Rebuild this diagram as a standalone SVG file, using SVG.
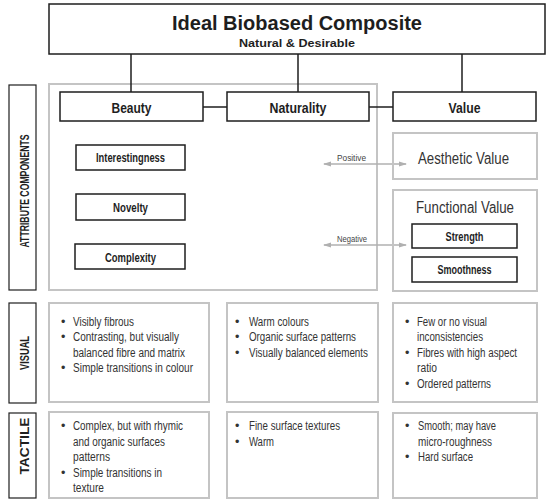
<svg xmlns="http://www.w3.org/2000/svg" width="550" height="504" viewBox="0 0 550 504">
<defs>
<style>
text{font-family:"Liberation Sans",Arial,sans-serif;fill:#1e1e1e}
.bx{fill:#fff;stroke:#1e1e1e;stroke-width:1.5}
.lb{fill:#fff;stroke:#1e1e1e;stroke-width:1.2}
.gb{fill:none;stroke:#c4c4c4;stroke-width:2}
.ln{stroke:#1e1e1e;stroke-width:1.5;fill:none}
.ar{stroke:#b0b0b0;stroke-width:1.3;fill:none}
.hd{font-weight:bold;font-size:14px;text-anchor:middle}
.cp{font-weight:bold;font-size:12.5px;text-anchor:middle}
.vl{font-size:16px;text-anchor:middle;fill:#333}
.sd{font-weight:bold;font-size:13px;text-anchor:middle}
.bl{font-size:12.5px;fill:#333}
.sm{font-size:9px;fill:#444}
</style>
<marker id="ah" viewBox="0 0 8 6" refX="7" refY="3" markerWidth="8" markerHeight="6" markerUnits="userSpaceOnUse" orient="auto-start-reverse">
<path d="M0,0.5 L8,3 L0,5.5 z" fill="#b0b0b0"/>
</marker>
</defs>

<g id="attr-panel"><rect class="gb" x="49" y="84" width="328" height="206"/></g>

<g id="connectors">
<line class="ln" x1="131" y1="54" x2="131" y2="92"/>
<line class="ln" x1="298" y1="54" x2="298" y2="92"/>
<line class="ln" x1="462" y1="54" x2="462" y2="92"/>
<line class="ln" x1="203" y1="107" x2="227" y2="107"/>
<line class="ln" x1="369" y1="107" x2="393" y2="107"/>
<line class="ar" x1="324" y1="164" x2="406" y2="164" marker-start="url(#ah)" marker-end="url(#ah)"/>
<line class="ar" x1="324" y1="245" x2="406" y2="245" marker-start="url(#ah)" marker-end="url(#ah)"/>
<text class="sm" x="337" y="161" textLength="29" lengthAdjust="spacingAndGlyphs">Positive</text>
<text class="sm" x="337" y="242" textLength="30" lengthAdjust="spacingAndGlyphs">Negative</text>
</g>

<g id="ideal">
<rect class="bx" x="49" y="4" width="496" height="50"/>
<text x="297" y="30" font-size="20" font-weight="bold" text-anchor="middle" textLength="250" lengthAdjust="spacingAndGlyphs">Ideal Biobased Composite</text>
<text x="297" y="47" font-size="11" font-weight="bold" text-anchor="middle" textLength="116" lengthAdjust="spacingAndGlyphs">Natural &amp; Desirable</text>
</g>

<g id="beauty"><rect class="bx" x="60" y="92" width="143" height="29"/><text class="hd" x="131.5" y="113" textLength="40" lengthAdjust="spacingAndGlyphs">Beauty</text></g>
<g id="naturality"><rect class="bx" x="227" y="92" width="142" height="29"/><text class="hd" x="298" y="113" textLength="57" lengthAdjust="spacingAndGlyphs">Naturality</text></g>
<g id="value"><rect class="bx" x="393" y="92" width="143" height="29"/><text class="hd" x="464.5" y="113" textLength="32" lengthAdjust="spacingAndGlyphs">Value</text></g>

<g id="interestingness"><rect class="bx" x="76" y="145" width="109" height="25" stroke-width="1.2"/><text class="cp" x="130.5" y="162" textLength="69" lengthAdjust="spacingAndGlyphs">Interestingness</text></g>
<g id="novelty"><rect class="bx" x="76" y="194" width="109" height="26" stroke-width="1.2"/><text class="cp" x="130.5" y="212" textLength="35" lengthAdjust="spacingAndGlyphs">Novelty</text></g>
<g id="complexity"><rect class="bx" x="75" y="244" width="110" height="25" stroke-width="1.2"/><text class="cp" x="130.5" y="262" textLength="51" lengthAdjust="spacingAndGlyphs">Complexity</text></g>

<g id="aesthetic-value"><rect class="gb" x="393" y="133" width="144" height="46"/><text class="vl" x="463.5" y="164" textLength="91" lengthAdjust="spacingAndGlyphs">Aesthetic Value</text></g>
<g id="functional-value"><rect class="gb" x="393" y="190" width="144" height="101"/><text class="vl" x="465" y="213" textLength="98" lengthAdjust="spacingAndGlyphs">Functional Value</text></g>
<g id="strength"><rect class="bx" x="412" y="224" width="105" height="24" stroke-width="1.2"/><text class="cp" x="464.5" y="241" textLength="38" lengthAdjust="spacingAndGlyphs">Strength</text></g>
<g id="smoothness"><rect class="bx" x="412" y="257" width="105" height="25" stroke-width="1.2"/><text class="cp" x="464.5" y="274" textLength="54" lengthAdjust="spacingAndGlyphs">Smoothness</text></g>

<g id="label-attribute"><rect class="lb" x="9" y="85" width="27" height="205"/><text class="sd" transform="translate(29,191) rotate(-90)" x="0" y="0" textLength="113" lengthAdjust="spacingAndGlyphs">ATTRIBUTE COMPONENTS</text></g>
<g id="label-visual"><rect class="lb" x="9" y="303" width="27" height="100"/><text class="sd" transform="translate(29,353) rotate(-90)" x="0" y="0" textLength="34" lengthAdjust="spacingAndGlyphs">VISUAL</text></g>
<g id="label-tactile"><rect class="lb" x="9" y="413" width="27" height="85"/><text class="sd" transform="translate(29,446) rotate(-90)" x="0" y="0" textLength="57" lengthAdjust="spacingAndGlyphs">TACTILE</text></g>

<g id="visual-beauty"><rect class="gb" x="49" y="303" width="160" height="99"/>
<text class="bl" x="61" y="326">•</text><text class="bl" x="73" y="326" textLength="61" lengthAdjust="spacingAndGlyphs">Visibly fibrous</text>
<text class="bl" x="61" y="341">•</text><text class="bl" x="73" y="341" textLength="106" lengthAdjust="spacingAndGlyphs">Contrasting, but visually</text>
<text class="bl" x="73" y="357" textLength="112" lengthAdjust="spacingAndGlyphs">balanced fibre and matrix</text>
<text class="bl" x="61" y="372">•</text><text class="bl" x="73" y="372" textLength="120" lengthAdjust="spacingAndGlyphs">Simple transitions in colour</text>
</g>
<g id="visual-naturality"><rect class="gb" x="227" y="303" width="151" height="99"/>
<text class="bl" x="235" y="326">•</text><text class="bl" x="249" y="326" textLength="60" lengthAdjust="spacingAndGlyphs">Warm colours</text>
<text class="bl" x="235" y="341">•</text><text class="bl" x="249" y="341" textLength="107" lengthAdjust="spacingAndGlyphs">Organic surface patterns</text>
<text class="bl" x="235" y="357">•</text><text class="bl" x="249" y="357" textLength="119" lengthAdjust="spacingAndGlyphs">Visually balanced elements</text>
</g>
<g id="visual-value"><rect class="gb" x="393" y="303" width="144" height="99"/>
<text class="bl" x="405" y="326">•</text><text class="bl" x="417" y="326" textLength="70" lengthAdjust="spacingAndGlyphs">Few or no visual</text>
<text class="bl" x="417" y="341" textLength="66" lengthAdjust="spacingAndGlyphs">inconsistencies</text>
<text class="bl" x="405" y="357">•</text><text class="bl" x="417" y="357" textLength="100" lengthAdjust="spacingAndGlyphs">Fibres with high aspect</text>
<text class="bl" x="417" y="372" textLength="20" lengthAdjust="spacingAndGlyphs">ratio</text>
<text class="bl" x="405" y="388">•</text><text class="bl" x="417" y="388" textLength="74" lengthAdjust="spacingAndGlyphs">Ordered patterns</text>
</g>

<g id="tactile-beauty"><rect class="gb" x="49" y="412" width="160" height="86"/>
<text class="bl" x="61" y="430">•</text><text class="bl" x="73" y="430" textLength="110" lengthAdjust="spacingAndGlyphs">Complex, but with rhymic</text>
<text class="bl" x="73" y="446" textLength="92" lengthAdjust="spacingAndGlyphs">and organic surfaces</text>
<text class="bl" x="73" y="461" textLength="37" lengthAdjust="spacingAndGlyphs">patterns</text>
<text class="bl" x="61" y="477">•</text><text class="bl" x="73" y="477" textLength="89" lengthAdjust="spacingAndGlyphs">Simple transitions in</text>
<text class="bl" x="73" y="492" textLength="31" lengthAdjust="spacingAndGlyphs">texture</text>
</g>
<g id="tactile-naturality"><rect class="gb" x="227" y="412" width="151" height="86"/>
<text class="bl" x="235" y="430">•</text><text class="bl" x="249" y="430" textLength="91" lengthAdjust="spacingAndGlyphs">Fine surface textures</text>
<text class="bl" x="235" y="446">•</text><text class="bl" x="249" y="446" textLength="25" lengthAdjust="spacingAndGlyphs">Warm</text>
</g>
<g id="tactile-value"><rect class="gb" x="393" y="413" width="144" height="85"/>
<text class="bl" x="405" y="430">•</text><text class="bl" x="418" y="430" textLength="78" lengthAdjust="spacingAndGlyphs">Smooth; may have</text>
<text class="bl" x="418" y="446" textLength="74" lengthAdjust="spacingAndGlyphs">micro-roughness</text>
<text class="bl" x="405" y="461">•</text><text class="bl" x="418" y="461" textLength="55" lengthAdjust="spacingAndGlyphs">Hard surface</text>
</g>
</svg>
